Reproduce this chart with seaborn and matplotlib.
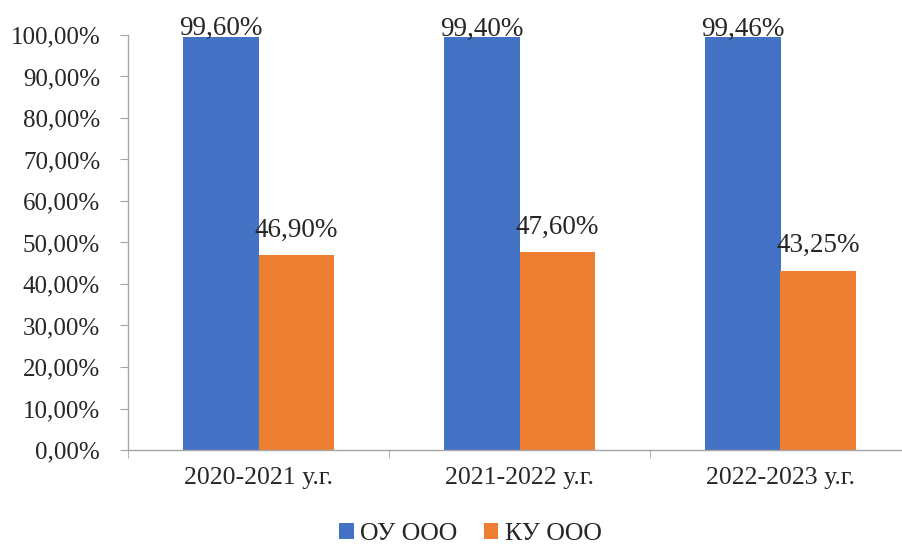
import pandas as pd
import matplotlib
matplotlib.use("Agg")
import matplotlib.pyplot as plt
import seaborn as sns

# данные
years = ["2020-2021 у.г.", "2021-2022 у.г.", "2022-2023 у.г."]
ou_ooo = [99.60, 99.40, 99.46]
ku_ooo = [46.90, 47.60, 43.25]
series = ["ОУ ООО", "КУ ООО"]
colors = ["#4472C4", "#ED7D31"]

df = pd.DataFrame({
    "year": years * 2,
    "value": ou_ooo + ku_ooo,
    "series": [series[0]] * 3 + [series[1]] * 3,
})

sns.set_style("white")
plt.rcParams['font.family'] = ['Liberation Serif', 'DejaVu Serif']

fig = plt.figure(figsize=(9.02, 5.47), dpi=100)
ax = fig.add_axes([128 / 902, 97 / 547, 783 / 902, 415 / 547])

sns.barplot(data=df, x="year", y="value", hue="series", palette=colors,
            width=0.575, gap=0, saturation=1, linewidth=0, ax=ax, legend=True)

ax.set_ylim(0, 100)
ax.set_xlim(-0.5, 2.5)
ax.set_yticks(range(0, 101, 10))
ax.set_yticklabels([f"{v},00%" for v in range(0, 101, 10)])
ax.set_xlabel("")
ax.set_ylabel("")

for s in ["top", "right"]:
    ax.spines[s].set_visible(False)
for s in ["left", "bottom"]:
    ax.spines[s].set_color("#A6A6A6")
    ax.spines[s].set_linewidth(1)

ax.tick_params(axis="y", which="major", length=6, color="#A6A6A6", labelsize=18, left=True, pad=14)
ax.tick_params(axis="x", which="major", length=0, labelsize=18.5, pad=12)
ax.set_xticks([-0.5, 0.5, 1.5, 2.5], minor=True)
ax.tick_params(axis="x", which="minor", length=6, color="#A6A6A6", bottom=True)

# подписи данных
for cont, vals, pad in zip(ax.containers, [ou_ooo, ku_ooo], [-3, 9]):
    ax.bar_label(cont, labels=[f"{v:.2f}%".replace(".", ",") for v in vals],
                 padding=pad, fontsize=19.5, clip_on=False)

handles, labels = ax.get_legend_handles_labels()
ax.get_legend().remove()
fig.legend(handles, labels, loc="center", ncol=2, frameon=False,
           bbox_to_anchor=(0.5216, 0.024), fontsize=18.5, handlelength=0.55,
           handleheight=0.55, handletextpad=0.25, columnspacing=1.05,
           borderpad=0)

fig.savefig("out.png", dpi=100)
